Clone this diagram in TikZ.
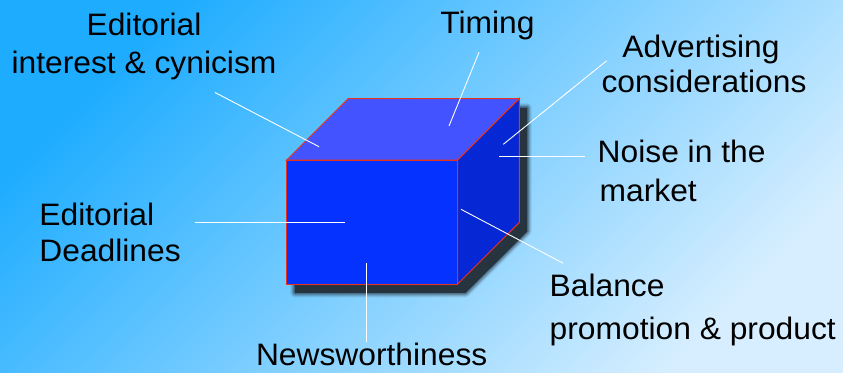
\documentclass[tikz,border=0pt]{standalone}
\usepackage{fontspec}
\setmainfont[FakeStretch=1.025]{Liberation Sans}
\definecolor{bgdark}{RGB}{30,172,255}
\definecolor{bglight}{RGB}{214,238,255}
\definecolor{frontc}{RGB}{5,50,255}
\definecolor{topc}{RGB}{67,83,255}
\definecolor{rightc}{RGB}{5,40,212}
\definecolor{edgec}{RGB}{232,50,30}
\definecolor{shadowc}{RGB}{38,52,64}
\tikzset{
  lbl/.style={inner sep=0pt, font=\fontsize{31}{37}\selectfont, text=black},
  leader/.style={draw=white, line width=0.9pt},
  face/.style={draw=edgec, line width=1pt, line join=miter},
}
\begin{document}
\begin{tikzpicture}[x=1pt, y=-1pt]
  % background
  \shade[top color=bgdark, bottom color=bglight, shading angle=45] (0,0) rectangle (843,372);
  \useasboundingbox (0,0) rectangle (843,372);

  % cube corners
  \coordinate (A) at (286.7,160);
  \coordinate (B) at (457.7,160);
  \coordinate (C) at (457.7,284);
  \coordinate (D) at (286.7,284);
  \coordinate (E) at (348.3,98.5);
  \coordinate (F) at (519.3,98.5);
  \coordinate (G) at (519.3,222.5);

  % shadow
  \foreach \w/\o in {9/0.08,7/0.12,5/0.18,3/0.3}{
    \draw[shadowc, line width=\w pt, draw opacity=\o, line join=round]
      (294.7,169) -- (356.3,107.5) -- (527.3,107.5) -- (527.3,231.5) -- (465.7,293) -- (294.7,293) -- cycle;
  }
  \fill[shadowc] (294.7,169) -- (356.3,107.5) -- (527.3,107.5) -- (527.3,231.5) -- (465.7,293) -- (294.7,293) -- cycle;

  % faces
  \filldraw[face, fill=topc] (A) -- (E) -- (F) -- (B) -- cycle;
  \filldraw[face, fill=rightc] (B) -- (F) -- (G) -- (C) -- cycle;
  \filldraw[face, fill=frontc] (A) -- (B) -- (C) -- (D) -- cycle;

  % labels
  \node[lbl, anchor=base] (ei1) at (144,35) {Editorial};
  \node[lbl, anchor=base] (ei2) at (144,73.3) {interest \& cynicism};
  \node[lbl, anchor=base] (tim) at (487.5,33) {Timing};
  \node[lbl, anchor=base] (ad1) at (701,57.3) {Advertising};
  \node[lbl, anchor=base] (ad2) at (704,92.3) {considerations};
  \node[lbl, anchor=base west] (no1) at (597.5,162.7) {Noise in the};
  \node[lbl, anchor=base west] (no2) at (599.5,201) {market};
  \node[lbl, anchor=base west] (ba1) at (549.5,296.7) {Balance};
  \node[lbl, anchor=base west] (ba2) at (549.5,339) {promotion \& product};
  \node[lbl, anchor=base west] (ed1) at (39.2,225) {Editorial};
  \node[lbl, anchor=base west] (ed2) at (39.2,261.7) {Deadlines};
  \node[lbl, anchor=base] (nw) at (371.7,365.7) {Newsworthiness};

  % leader line ends
  \coordinate (l1a) at (215,92.5);   \coordinate (l1b) at (319,146.7);
  \coordinate (l2a) at (479,52.3);   \coordinate (l2b) at (449,126);
  \coordinate (l3a) at (606.7,60.7); \coordinate (l3b) at (503.3,144.3);
  \coordinate (l4a) at (585,156.5);  \coordinate (l4b) at (499,156.5);
  \coordinate (l5a) at (563.3,263.3);\coordinate (l5b) at (461,209.3);
  \coordinate (l6a) at (195,222.5);  \coordinate (l6b) at (345,222.5);
  \coordinate (l7a) at (366.7,341.7);\coordinate (l7b) at (366.7,262.7);

  \draw[leader] (l1a) -- (l1b);
  \draw[leader] (l2a) -- (l2b);
  \draw[leader] (l3a) -- (l3b);
  \draw[leader] (l4a) -- (l4b);
  \draw[leader] (l5a) -- (l5b);
  \draw[leader] (l6a) -- (l6b);
  \draw[leader] (l7a) -- (l7b);
\end{tikzpicture}
\end{document}
